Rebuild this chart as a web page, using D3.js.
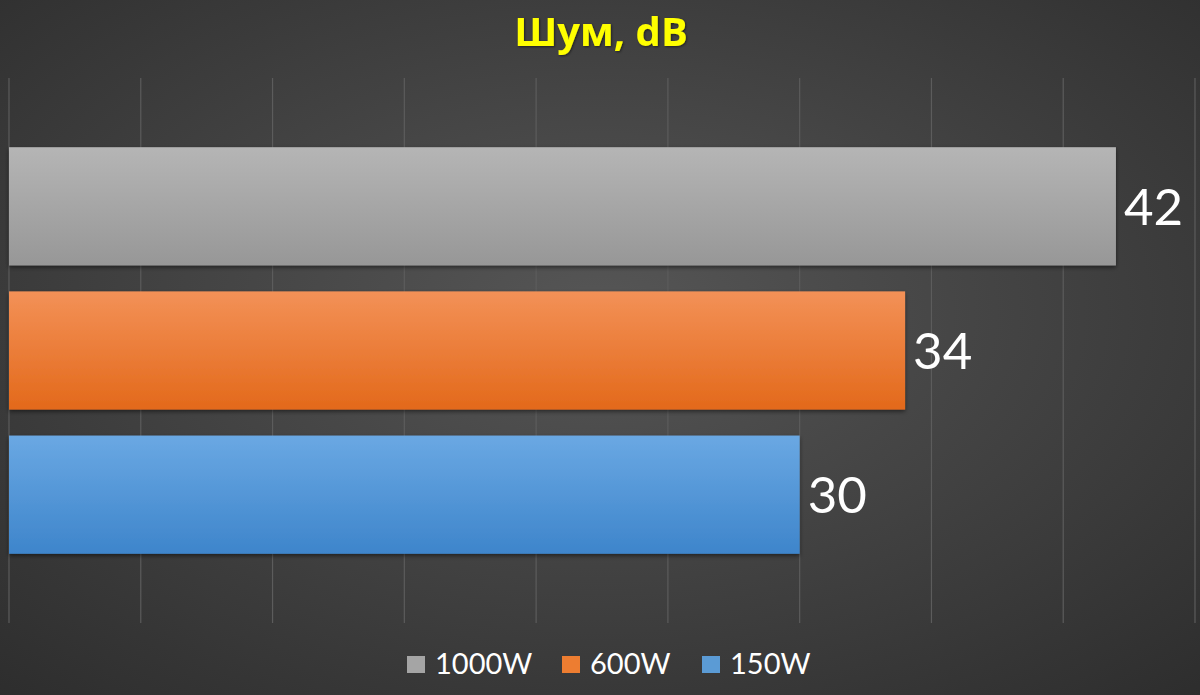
<!DOCTYPE html>
<html><head><meta charset="utf-8">
<script src="https://cdn.jsdelivr.net/npm/d3@7"></script>
<style>html,body{margin:0;padding:0;background:#3a3a3a;}svg{display:block;}</style>
</head><body>
<svg id="chart" width="1200" height="695"></svg>
<script>
const categories = ["1000W", "600W", "150W"];
const values = [42, 34, 30];
const legendLabels = ["1000W", "600W", "150W"];
const title = "Шум, dB";
const xTicks = [0, 5, 10, 15, 20, 25, 30, 35, 40, 45];

const colors = {
  "1000W": ["#b5b5b5", "#979797"],
  "600W": ["#f39157", "#e3691b"],
  "150W": ["#6aa8e3", "#3e85cb"]
};
const legendColors = {"1000W": "#a5a5a5", "600W": "#ed7d31", "150W": "#5b9bd5"};

const svg = d3.select("#chart");
const W = 1200, H = 695;
const defs = svg.append("defs");

const bg = defs.append("radialGradient").attr("id", "bg")
  .attr("cx", "50%").attr("cy", "45%").attr("r", "75%");
bg.append("stop").attr("offset", "0%").attr("stop-color", "#565656");
bg.append("stop").attr("offset", "100%").attr("stop-color", "#2d2d2d");

categories.forEach((c, i) => {
  const g = defs.append("linearGradient").attr("id", "g" + i)
    .attr("x1", 0).attr("y1", 0).attr("x2", 0).attr("y2", 1);
  g.append("stop").attr("offset", "0%").attr("stop-color", colors[c][0]);
  g.append("stop").attr("offset", "100%").attr("stop-color", colors[c][1]);
});
const sh = defs.append("filter").attr("id", "shadow")
  .attr("x", "-5%").attr("y", "-10%").attr("width", "110%").attr("height", "130%");
sh.append("feDropShadow").attr("dx", 0).attr("dy", 2).attr("stdDeviation", 2)
  .attr("flood-color", "#000").attr("flood-opacity", 0.5);
const tsh = defs.append("filter").attr("id", "tshadow");
tsh.append("feDropShadow").attr("dx", 1).attr("dy", 1).attr("stdDeviation", 1)
  .attr("flood-color", "#000").attr("flood-opacity", 0.5);

svg.append("rect").attr("width", W).attr("height", H).attr("fill", "url(#bg)");

const x = d3.scaleLinear().domain([0, 45]).range([9, 1195]);
const y = d3.scaleBand().domain(categories).range([78, 623])
  .paddingInner(0.18).paddingOuter(0.48);

svg.append("g").selectAll("line").data(xTicks).join("line")
  .attr("x1", d => x(d)).attr("x2", d => x(d))
  .attr("y1", 78).attr("y2", 623)
  .attr("stroke", "#5c5c5c").attr("stroke-width", 1.2);

svg.append("g").selectAll("rect").data(categories).join("rect")
  .attr("x", x(0))
  .attr("y", d => y(d))
  .attr("width", (d, i) => x(values[i]) - x(0))
  .attr("height", y.bandwidth())
  .attr("fill", (d, i) => "url(#g" + i + ")")
  .attr("filter", "url(#shadow)");

svg.append("g").selectAll("text").data(categories).join("text")
  .attr("x", (d, i) => x(values[i]) + 8)
  .attr("y", d => y(d) + y.bandwidth() / 2)
  .attr("dy", "0.36em")
  .attr("fill", "#ffffff")
  .attr("font-family", "Lato, 'Open Sans', sans-serif")
  .attr("font-size", 51)
  .text((d, i) => values[i]);

svg.append("text")
  .attr("x", 601).attr("y", 46)
  .attr("text-anchor", "middle")
  .attr("fill", "#ffff00")
  .attr("font-family", "'Open Sans', Lato, sans-serif")
  .attr("font-weight", "bold")
  .attr("font-size", 40)
  .attr("filter", "url(#tshadow)")
  .text(title);

const legendX = [407, 562, 702];
const lg = svg.append("g").selectAll("g").data(legendLabels).join("g")
  .attr("transform", (d, i) => `translate(${legendX[i]},656)`);
lg.append("rect").attr("width", 18).attr("height", 17)
  .attr("fill", d => legendColors[d]);
lg.append("text").attr("x", 28).attr("y", 18)
  .attr("fill", "#ffffff")
  .attr("font-family", "Lato, 'Open Sans', sans-serif")
  .attr("font-size", 29)
  .text(d => d);
</script>
</body></html>
